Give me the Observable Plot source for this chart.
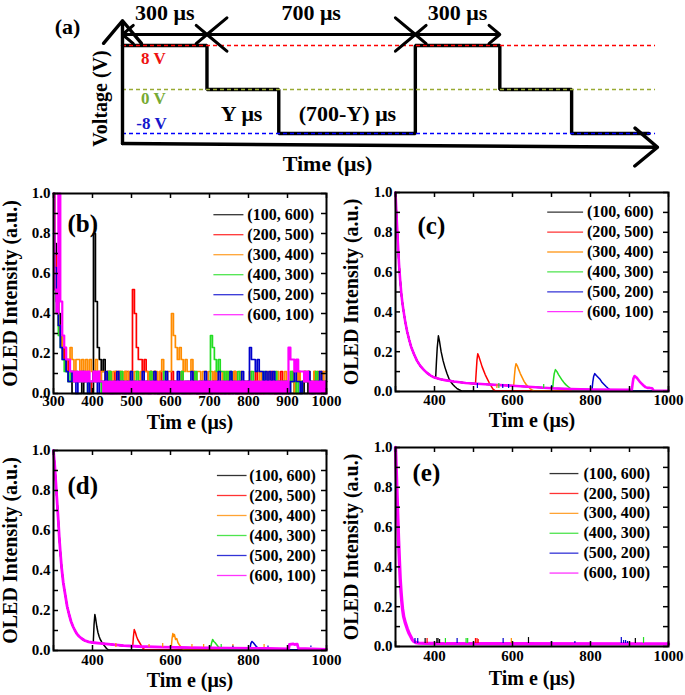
<!DOCTYPE html>
<html><head><meta charset="utf-8">
<script src="https://cdn.jsdelivr.net/npm/d3@7"></script>
<script src="https://cdn.jsdelivr.net/npm/@observablehq/plot@0.6"></script>
<style>
html,body{margin:0;padding:0;background:#fff;}
#fig{position:relative;width:685px;height:695px;overflow:hidden;background:#fff;}
#fig svg{position:absolute;margin:0;}
#fig svg text{font-family:"Liberation Serif","Times New Roman",serif;font-weight:bold;}
</style></head><body><div id="fig"></div>
<script>
// ---------- shared series info ----------
const seriesNames = ["(100, 600)","(200, 500)","(300, 400)","(400, 300)","(500, 200)","(600, 100)"];
const seriesColors = ["#000000","#ff0000","#ff8c00","#22dd22","#0000cc","#ff00ff"];
const xTickLabelsB = [300,400,500,600,700,800,900,1000];
const xTickLabelsCDE = [400,600,800,1000];
const yTickLabels = [0,0.2,0.4,0.6,0.8,1.0];

// ---------- panel (a): schematic waveform ----------
const waveT = [0,300,300,555,555,1040,1040,1340,1340,1595,1595,1870];
const waveV = [8,8,0,0,-8,-8,8,8,0,0,-8,-8];
const levelV = [8,0,-8];
const levelColors = ["#ff0000","#99aa33","#0000ff"];
const spanStart = [0,300,1040];
const spanEnd = [300,1040,1340];
const spanLabels = ["300 μs","700 μs","300 μs"];

// ---------- panel (b): sampled every 5 μs from 300 to 1000 ----------
const bTimes = d3.range(300, 1001, 5);
const bBlack = [1,.75,.52,.4,.29,.23,.17,.11,.06,.06, 0,0,0,0,0,.06,0,0,0,0, 0,.8,.46,.23,.17,.11,.17,.06,.11,0,
 .06,0,.06,0,0,.06,0,0,.06,0, 0,.06,0,0,.06,0,0,0,.06,0, 0,.06,0,0,0,.06,0,0,.06,0, 0,0,.06,0,0,.06,0,0,0,.06,
 0,0,.06,0,0,0,.06,0,0,.06, 0,0,.06,0,0,.06,0,0,0,.06, 0,0,0,.06,0,0,.06,0,0,0, .06,0,0,.06,0,0,0,.06,0,0,
 .06,0,0,0,.06,0,0,.06,0,0, 0,.06,0,0,.06,0,0,0,.06,0, 0,.06,0,0,0,.06,0,0,.06,0, 0];
const bRed = [1,.69,.46,.34,.29,.23,.17,.17,.11,.11, .06,.11,.06,.06,.11,.06,.06,.11,.06,0, .06,.11,.06,.06,.11,.06,.06,0,.06,.11,
 .06,.06,.11,.06,.11,.06,.06,.11,.11,.06, .11,.52,.4,.23,.17,.17,.11,.17,.11,.06, .11,.06,.11,.06,.06,.11,.06,.06,0,.06,
 .06,.11,.06,0,.06,.06,.11,.06,.06,0, .06,.06,.11,.06,0,.06,.06,0,.06,.06, .06,0,.06,.11,.06,.06,0,.06,.06,.06,
 0,.06,.06,.11,.06,0,.06,.06,.06,0, .06,.06,0,.06,.11,.06,.06,0,.06,.06, .06,.06,.11,.06,0,.06,.06,.11,.06,.06,
 0,.06,.06,.11,.06,.06,.11,.06,.06,.11, .06,.11,.06,.06,.11,.06,.11,.06,.11,.06, .06];
const bOrange = [1,.63,.46,.34,.29,.23,.23,.17,.17,.23, .17,.11,.17,.17,.11,.17,.11,.17,.11,.17, .11,.11,.17,.11,.06,.11,.11,.06,.11,.11,
 .06,.11,.11,.06,.11,.11,.06,.11,.06,.11, .11,.06,.11,.11,.06,.11,.06,.11,.11,.06, .11,.06,.11,.11,.06,.11,.17,.11,.06,.11,
 .11,.4,.29,.23,.17,.23,.17,.11,.17,.11, .11,.17,.11,.06,.11,.11,.06,.11,.11,.06, .11,.11,.06,.11,.06,.11,.11,.06,.11,.06,
 .11,.06,.06,.11,.06,.06,.11,.06,0,.06, .06,.11,.06,.06,0,.06,.11,.06,.06,.06, .11,.06,.06,0,.06,.11,.06,.06,.06,.11,
 .06,.06,.11,.06,0,.06,.11,.06,.06,.11, .06,.11,.06,.06,.11,.06,.06,.11,.06,.11, .11];
const bGreen = [1,.6,.4,.29,.23,.17,.11,.11,.06,.11, .06,.06,.11,.06,.06,.06,.11,.06,0,.06, .06,.06,.11,.06,.06,0,.06,.06,.06,.11,
 .06,.06,0,.06,.06,.11,.06,.06,.06,0, .06,.06,.06,.11,.06,.06,0,.06,.06,.06, .11,.06,.06,.06,0,.06,.06,.11,.06,.06,
 .06,.06,0,.06,.06,.06,.11,.06,.06,.06, 0,.06,.06,.11,.06,.06,.06,0,.06,.06, .06,.29,.23,.17,.11,.17,.11,.11,.06,.11,
 .06,.11,.06,.06,.06,.11,.06,0,.06,.06, .06,.06,.11,.06,0,.06,.06,.06,.11,.06, .06,0,.06,.06,.11,.06,.06,.06,0,.06,
 .06,.06,.11,.06,.06,0,.06,.06,.06,.11, .06,.06,.06,0,.06,.11,.06,.06,.06,.06, .06];
const bBlue = [.8,.63,.46,.34,.23,.17,.17,.11,.06,.06, .11,.06,0,.06,.06,.11,.06,.06,0,.06, .06,.11,.06,0,.06,.06,.06,.11,.06,.06,
 0,.06,.06,.11,.06,.06,.06,0,.06,.06, .11,.06,.06,0,.06,.06,.11,.06,.06,0, .06,.06,.11,.06,0,.06,.06,.06,.11,.06,
 .06,0,.06,.06,.11,.06,.06,0,.06,.06, .06,.11,.06,.06,0,.06,.06,.06,.11,.06, .06,0,.06,.06,.06,.11,.06,.06,0,.06,
 .06,.11,.06,.06,0,.06,.06,.11,.06,.06, .06,.23,.17,.17,.11,.17,.11,.11,.06,.11, .06,.11,.06,.11,0,.06,.06,0,.06,.06,
 .06,0,.06,.06,.11,.06,.06,0,.06,.06, .06,.11,.06,0,.06,.06,.06,.11,.06,0, .06];
const bMagenta = [1,.52,.4,1,.46,.29,.23,.17,.17,.11, .11,.06,.11,.06,.11,.06,.11,.06,.11,.06, .06,.11,.06,.11,.06,.06,0,.06,0,.06,
 0,.06,0,.06,0,.06,0,.06,0,.06, 0,.06,0,.06,0,.06,0,.06,0,.06, 0,.06,0,.06,0,.06,0,.06,0,.06,
 0,.06,0,.06,0,.06,0,.06,0,.06, 0,.06,0,.06,0,.06,0,.06,0,.06, 0,.06,0,.06,0,.06,0,.06,0,.06,
 0,.06,0,.06,0,.06,0,.06,0,.06, 0,.06,0,.06,0,.06,0,.06,0,.06, 0,.06,0,.06,0,.06,0,.06,0,.06,
 0,.23,.17,.17,.11,.17,.11,.11,.11,.06, .11,.06,0,.06,0,.06,0,.06,0,.06, 0];

// ---------- panel (c): [time μs, intensity] ----------
const cDecay = [[300,1],[303,.87],[306,.75],[309,.64],[312,.56],[315,.49],[318,.44],[321,.4],[325,.35],[330,.3],[335,.26],[340,.225],[347,.19],[355,.155],[363,.13],[372,.11],[380,.095],[390,.08],[400,.07],[415,.062],[430,.056],[450,.05],[480,.043],[510,.039],[540,.035],[580,.031],[620,.026],[660,.021],[700,.016],[750,.012],[800,.01],[900,.008],[1000,.007]];
const cBlack = [[403,.07],[405,.15],[407,.22],[410,.28],[413,.25],[417,.2],[422,.155],[427,.12],[432,.09],[437,.065],[442,.048],[447,.035],[452,.025],[457,.016],[462,.01],[467,.005],[472,.002],[1000,.002]];
const cRed = [[505,.038],[507,.1],[509,.16],[511,.19],[514,.175],[518,.15],[522,.125],[526,.105],[530,.085],[535,.065],[540,.045],[545,.028],[550,.012],[555,.004],[1000,.002]];
const cOrange = [[603,.03],[605,.08],[607,.12],[609,.14],[612,.13],[616,.11],[620,.09],[625,.07],[630,.05],[635,.035],[640,.025],[645,.015],[650,.008],[655,.003],[1000,.002]];
const cGreen = [[703,.016],[705,.06],[707,.09],[710,.11],[714,.1],[718,.085],[723,.07],[728,.055],[733,.042],[738,.032],[743,.024],[748,.016],[753,.009],[758,.004],[1000,.002]];
const cBlue = [[804,.01],[806,.05],[808,.075],[811,.09],[815,.08],[820,.07],[825,.06],[830,.045],[835,.035],[840,.025],[845,.016],[850,.008],[855,.003],[1000,.002]];
const cMagenta = [[906,.008],[908,.04],[910,.065],[913,.078],[917,.072],[921,.063],[926,.05],[931,.04],[936,.03],[941,.022],[946,.018],[952,.018],[958,.016],[962,.005],[1000,.004]];
const cSpikes = [[4,510,.04],[4,575,.035],[4,590,.035],[4,700,.03],[4,800,.03],[3,565,.04],[3,680,.035],[2,560,.035]];

// ---------- panel (d) ----------
const dDecay = [[300,1],[303,.93],[306,.84],[309,.75],[312,.66],[315,.56],[318,.48],[321,.41],[325,.34],[330,.28],[335,.22],[340,.18],[345,.145],[350,.12],[355,.1],[360,.083],[366,.07],[372,.06],[380,.05],[390,.043],[400,.04],[420,.036],[440,.032],[460,.028],[480,.024],[520,.02],[580,.017],[650,.014],[750,.012],[850,.01],[1000,.008]];
const dBlack = [[402,.04],[404,.13],[406,.18],[408,.16],[411,.12],[414,.09],[417,.07],[420,.055],[424,.042],[428,.03],[432,.02],[436,.01],[440,.004],[1000,.002]];
const dRed = [[503,.02],[505,.07],[507,.105],[510,.09],[513,.07],[516,.055],[519,.045],[522,.035],[526,.022],[530,.01],[534,.004],[1000,.002]];
const dOrange = [[602,.017],[604,.06],[606,.085],[608,.07],[610,.08],[613,.055],[616,.06],[619,.04],[622,.03],[626,.02],[630,.01],[635,.004],[1000,.002]];
const dGreen = [[703,.013],[705,.035],[708,.055],[711,.045],[714,.04],[718,.03],[722,.02],[726,.012],[730,.005],[1000,.002]];
const dBlue = [[804,.012],[806,.035],[809,.045],[812,.04],[816,.03],[820,.02],[825,.012],[830,.005],[1000,.002]];
const dMagenta = [[903,.008],[905,.03],[915,.033],[918,.03],[925,.032],[928,.01],[1000,.006]];
const dSpikes = [[2,460,.035],[2,545,.03],[2,580,.035],[2,655,.03],[2,685,.03],[2,760,.03],[2,840,.03],[3,730,.03],[4,700,.022],[4,760,.022],[4,850,.022],[4,960,.022]];

// ---------- panel (e) ----------
const eDecay = [[300,1],[302,.88],[304,.76],[306,.64],[308,.53],[310,.43],[312,.34],[314,.28],[316,.23],[318,.19],[321,.15],[325,.12],[330,.09],[335,.065],[339,.05],[343,.035],[347,.026],[352,.02],[360,.017],[400,.015],[600,.014],[1000,.013]];
const eSpikes = [[0,376,.04],[0,406,.04],[0,409,.04],[0,413,.035],[0,641,.045],[0,915,.04],
 [1,381,.04],[1,505,.04],[1,509,.04],[1,512,.035],[2,597,.04],[3,428,.04],[3,481,.04],[3,485,.04],[3,936,.045],
 [4,350,.04],[4,357,.04],[4,458,.04],[4,576,.04],[4,700,.025],[4,760,.025],[4,879,.045],[4,885,.03],[4,890,.03],[4,895,.025]];

// ---------- helpers ----------
const toPts = arr => arr.map(([t,v]) => ({t, v}));
const withDecay = (decay, tail) => toPts(decay.filter(p => p[0] < tail[0][0]).concat(tail));
const toSpikes = arr => arr.map(([s,t,v]) => ({s, t, v, v0: 0.015}));
const fig = document.getElementById("fig");
const FONT = "Liberation Serif, Times New Roman, serif";

function place(svg, left, top) {
  svg.style.position = "absolute";
  svg.style.left = left + "px";
  svg.style.top = top + "px";
  fig.appendChild(svg);
}

// ---------- draw panel (a) ----------
{
  const wave = waveT.map((t,i) => ({t, v: waveV[i]}));
  const spans = spanStart.map((a,i) => ({a, b: spanEnd[i], m: (a + spanEnd[i]) / 2, label: spanLabels[i]}));
  const notes = [
    {t:-195, v:11.3, text:"(a)", c:"#000000", s:22},
    {t:110, v:5.64, text:"8 V", c:"#ee1111", s:17},
    {t:110, v:-1.64, text:"0 V", c:"#77aa33", s:17},
    {t:103, v:-6.18, text:"-8 V", c:"#1515cc", s:17},
    {t:423, v:-4.36, text:"Y μs", c:"#000000", s:22},
    {t:799, v:-4.36, text:"(700-Y) μs", c:"#000000", s:22},
    {t:728, v:-13.45, text:"Time (μs)", c:"#000000", s:22}
  ];
  const levelMarks = levelV.map((v,i) => Plot.ruleY([v], {y: d => d, x1: 0, x2: 1893, stroke: levelColors[i], strokeWidth: 1.4, strokeDasharray: "4,3"}));
  const svg = Plot.plot({
    width: 685, height: 180, margin: 0,
    x: {domain: [0, 1900], range: [122, 657]},
    y: {domain: [-8, 8], range: [133, 45]},
    color: {type: "identity"},
    axis: null,
    style: {fontFamily: FONT, fontWeight: "bold", background: "transparent", color: "#000", overflow: "visible"},
    marks: [
      Plot.line(wave, {x: "t", y: "v", stroke: "#000", strokeWidth: 3.4, strokeLinejoin: "miter"}),
      ...levelMarks,
      Plot.arrow([0], {x1: 0, y1: -9.82, x2: 0, y2: 12.5, stroke: "#000", strokeWidth: 3.4, headLength: 13, headAngle: 80}),
      Plot.arrow([0], {x1: 0, y1: -9.82, x2: 1900, y2: -10.5, stroke: "#000", strokeWidth: 3.4, headLength: 13, headAngle: 80}),
      Plot.arrow(spans, {x1: "m", x2: "a", y1: 10, y2: 10, stroke: "#000", strokeWidth: 3, headLength: 13, headAngle: 80}),
      Plot.arrow(spans, {x1: "m", x2: "b", y1: 10, y2: 10, stroke: "#000", strokeWidth: 3, headLength: 13, headAngle: 80}),
      Plot.text(spans, {x: "m", y: 13.9, text: "label", fontSize: 22, fill: "#000"}),
      Plot.text(["Voltage (V)"], {x: -78, y: -1.64, text: d => d, rotate: -90, fontSize: 20, fill: "#000"}),
      Plot.text(notes, {x: "t", y: "v", text: "text", fill: "c", fontSize: "s"})
    ]
  });
  place(svg, 0, 0);
}

// ---------- draw panels (b)-(e) ----------
function drawPanel(p) {
  const pw = p.width - p.ml - p.mr, ph = p.height - p.mt - p.mb;
  const xTickMarks = [300,400,500,600,700,800,900,1000];
  const yTickMarks = [0,.1,.2,.3,.4,.5,.6,.7,.8,.9,1];
  const rows = seriesNames.map((n,i) => ({n, i}));
  const ly = d => p.lg.y0 - p.lg.dy * d.i;
  const marks = [];
  p.series.forEach((data,i) => {
    marks.push(Plot.line(data, {x: "t", y: "v", stroke: seriesColors[i], strokeWidth: p.widths[i], curve: p.curve}));
  });
  if (p.spikes) marks.push(Plot.ruleX(p.spikes, {x: "t", y1: "v0", y2: "v", stroke: d => seriesColors[d.s], strokeWidth: 1.2}));
  marks.push(
    Plot.tickX(xTickMarks, {x: d => d, insetTop: ph - 5, strokeWidth: 1.5}),
    Plot.tickX(xTickMarks, {x: d => d, insetBottom: ph - 5, strokeWidth: 1.5}),
    Plot.tickY(yTickMarks, {y: d => d, insetRight: pw - 5, strokeWidth: 1.5}),
    Plot.tickY(yTickMarks, {y: d => d, insetLeft: pw - 5, strokeWidth: 1.5}),
    Plot.frame({stroke: "#000", strokeWidth: 2}),
    Plot.axisX({ticks: p.xLabels, tickSize: 0, tickPadding: p.xPad, label: null, tickFormat: d => String(d), fontSize: 15}),
    Plot.axisY({ticks: yTickLabels, tickSize: 0, tickPadding: 3, label: null, tickFormat: d => d.toFixed(1), fontSize: 15}),
    Plot.text(["Tim e (μs)"], {text: d => d, frameAnchor: "bottom", dy: p.titleDy, fontSize: 20, lineAnchor: "middle", textAnchor: "middle"}),
    Plot.text(["OLED Intensity (a.u.)"], {text: d => d, frameAnchor: "left", dx: p.yTitleDx, rotate: -90, textAnchor: "middle", lineAnchor: "middle", fontSize: 20}),
    Plot.text([p.label], {text: d => d, frameAnchor: "top-left", dx: p.labelDx, dy: p.labelDy, textAnchor: "start", lineAnchor: "middle", fontSize: 25}),
    Plot.link(rows, {x1: p.lg.x1, x2: p.lg.x2, y1: ly, y2: ly, stroke: d => seriesColors[d.i], strokeWidth: 1.3, strokeOpacity: 0.8}),
    Plot.text(rows, {x: p.lg.tx, y: ly, text: "n", textAnchor: "start", lineAnchor: "middle", fontSize: 16})
  );
  const svg = Plot.plot({
    width: p.width, height: p.height,
    marginLeft: p.ml, marginRight: p.mr, marginTop: p.mt, marginBottom: p.mb,
    x: {domain: [300, 1000]}, y: {domain: [0, 1]},
    color: {type: "identity"},
    style: {fontFamily: FONT, fontWeight: "bold", fontSize: "15px", background: "transparent", color: "#000", overflow: "visible"},
    marks
  });
  place(svg, p.left, p.top);
}

const bSeries = [bBlack, bRed, bOrange, bGreen, bBlue, bMagenta].map(vals => bTimes.map((t,i) => ({t, v: vals[i]})));
drawPanel({left: 0, top: 180, width: 340, height: 260, ml: 53, mr: 14, mt: 13, mb: 47,
  series: bSeries, curve: "step", widths: [1.7,1.7,1.7,1.7,1.7,2.2],
  xLabels: xTickLabelsB, xPad: 2, titleDy: 29, yTitleDx: -43, label: "(b)", labelDx: 14, labelDy: 30,
  lg: {x1: 710, x2: 787, tx: 797, y0: .894, dy: .1}});

drawPanel({left: 340, top: 180, width: 345, height: 260, ml: 55, mr: 17, mt: 12, mb: 49,
  series: [cBlack, cRed, cOrange, cGreen, cBlue, cMagenta].map(tail => withDecay(cDecay, tail)),
  spikes: toSpikes(cSpikes), curve: "linear", widths: [1.5,1.5,1.5,1.5,1.5,2.6],
  xLabels: xTickLabelsCDE, xPad: 3, titleDy: 29, yTitleDx: -44, label: "(c)", labelDx: 22, labelDy: 33,
  lg: {x1: 689, x2: 781, tx: 791, y0: .901, dy: .1}});

drawPanel({left: 0, top: 440, width: 340, height: 255, ml: 53, mr: 14, mt: 10, mb: 45,
  series: [dBlack, dRed, dOrange, dGreen, dBlue, dMagenta].map(tail => withDecay(dDecay, tail)),
  spikes: toSpikes(dSpikes), curve: "linear", widths: [1.5,1.5,1.5,1.5,1.5,2.8],
  xLabels: xTickLabelsCDE, xPad: 4, titleDy: 30, yTitleDx: -43, label: "(d)", labelDx: 14, labelDy: 35,
  lg: {x1: 719, x2: 795, tx: 802, y0: .875, dy: .1}});

drawPanel({left: 340, top: 440, width: 345, height: 255, ml: 55, mr: 17, mt: 7, mb: 49,
  series: [0,1,2,3,4,5].map(() => toPts(eDecay)),
  spikes: toSpikes(eSpikes), curve: "linear", widths: [1.5,1.5,1.5,1.5,1.5,3.4],
  xLabels: xTickLabelsCDE, xPad: 4, titleDy: 32, yTitleDx: -44, label: "(e)", labelDx: 17, labelDy: 25,
  lg: {x1: 695, x2: 769, tx: 782, y0: .869, dy: .1}});
</script>
</body></html>
